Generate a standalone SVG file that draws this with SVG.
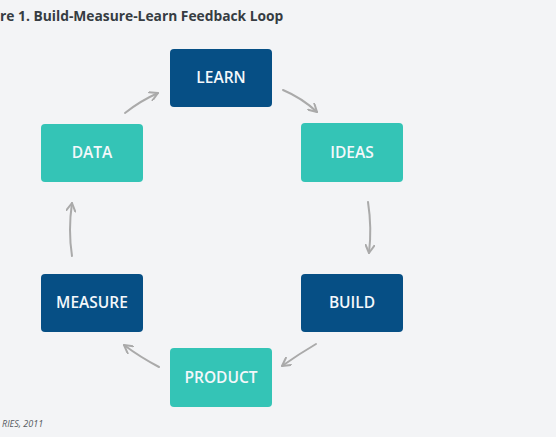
<svg xmlns="http://www.w3.org/2000/svg" width="556" height="437" viewBox="0 0 556 437">
<defs>
<style>
.bg{fill:#f3f4f6}
.dark{fill:#064f85}
.teal{fill:#34c4b6}
.lbl{font-family:"Open Sans","Noto Sans",sans-serif;font-size:15.5px;font-weight:600;fill:#f4f8fb;text-anchor:middle;dominant-baseline:central}
.title{font-family:"Open Sans","Noto Sans",sans-serif;font-size:13.8px;font-weight:700;fill:#363c42}
.src{font-family:"Open Sans","Noto Sans",sans-serif;font-size:9px;font-style:italic;fill:#555b60}
.arr{fill:none;stroke:#aaaaaa;stroke-width:2;stroke-linecap:round;marker-end:url(#ah)}
</style>
<marker id="ah" viewBox="0 0 10 10" refX="9" refY="5" markerWidth="10" markerHeight="10" markerUnits="userSpaceOnUse" orient="auto">
<path d="M1,0.5 L9,5 L1,9.5" fill="none" stroke="#aaaaaa" stroke-width="2" stroke-linecap="round" stroke-linejoin="round"/>
</marker>
</defs>
<rect class="bg" x="0" y="0" width="556" height="437"/>
<text class="title" x="0" y="21">re 1. Build-Measure-Learn Feedback Loop</text>
<text class="src" x="2" y="427">RIES, 2011</text>
<g id="connectors">
<path class="arr" d="M125,113 Q140,101 158,93"/>
<path class="arr" d="M283,90 Q302,98 317,112"/>
<path class="arr" d="M368,202 Q372,228 369,253"/>
<path class="arr" d="M316,344 Q299,354 282,366"/>
<path class="arr" d="M159,367 Q140,357 124,345"/>
<path class="arr" d="M72,256 Q68,230 72,203"/>
</g>
<g id="learn"><rect class="dark" x="170" y="49" width="102" height="58" rx="4"/><text class="lbl" x="221" y="77">LEARN</text></g>
<g id="ideas"><rect class="teal" x="301" y="123" width="102" height="59" rx="4"/><text class="lbl" x="352" y="152">IDEAS</text></g>
<g id="build"><rect class="dark" x="301" y="274" width="102" height="58" rx="4"/><text class="lbl" x="352" y="302">BUILD</text></g>
<g id="product"><rect class="teal" x="170" y="348" width="102" height="59" rx="4"/><text class="lbl" x="221" y="377">PRODUCT</text></g>
<g id="measure"><rect class="dark" x="41" y="274" width="102" height="58" rx="4"/><text class="lbl" x="92" y="302">MEASURE</text></g>
<g id="data"><rect class="teal" x="41" y="124" width="102" height="58" rx="4"/><text class="lbl" x="92" y="152">DATA</text></g>
</svg>
